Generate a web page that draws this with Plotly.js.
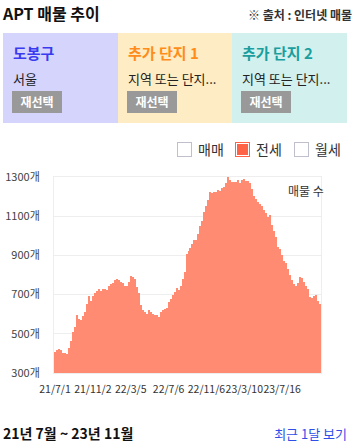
<!DOCTYPE html>
<html>
<head>
<meta charset="utf-8">
<script src="https://cdn.plot.ly/plotly-3.0.1.min.js"></script>
<style>
  html, body { margin:0; padding:0; width:355px; height:448px; overflow:hidden; background:#fff;
    font-family:"Noto Sans CJK KR","Noto Sans",sans-serif; color:#222; }
  .abs { position:absolute; white-space:nowrap; }
  #title { left:3px; top:1px; font-size:16px; font-weight:bold; color:#111; }
  #src { right:3px; top:6px; font-size:12px; font-weight:bold; color:#333; }
  .panel { position:absolute; top:33px; height:90px; }
  .ptitle { position:absolute; left:10px; top:9px; font-size:15px; font-weight:bold; }
  .psub { position:absolute; left:10px; top:36px; font-size:13px; color:#222; }
  .btn { position:absolute; left:9px; top:58px; width:50px; height:22px; background:#999; color:#fff;
    font-size:12px; font-weight:bold; text-align:center; line-height:22px; }
  .cb { position:absolute; top:142px; width:13px; height:13px; border:1px solid #c0c0cc; background:#fff; }
  .cb.on { border-color:#ff6347; }
  .cb.on div { position:absolute; left:1px; top:1px; width:11px; height:11px; background:#ff6347; }
  .cbl { position:absolute; top:139px; font-size:14px; color:#333; }
  #chart { position:absolute; left:0; top:160px; width:355px; height:250px; }
  #range { left:3px; top:423px; font-size:14px; font-weight:bold; color:#111; }
  #recent { right:8px; top:424px; font-size:13px; color:#2f4fe8; }
</style>
</head>
<body>
<div id="title" class="abs">APT 매물 추이</div>
<div id="src" class="abs">※ 출처 : 인터넷 매물</div>

<div class="panel" style="left:3px;width:115px;background:#d4d4fc;">
  <div class="ptitle" style="color:#3a3af0;">도봉구</div>
  <div class="psub">서울</div>
  <div class="btn">재선택</div>
</div>
<div class="panel" style="left:118px;width:114px;background:#feedc4;">
  <div class="ptitle" style="color:#ff8c1a;">추가 단지 1</div>
  <div class="psub">지역 또는 단지...</div>
  <div class="btn">재선택</div>
</div>
<div class="panel" style="left:232px;width:115px;background:#d2f0ee;">
  <div class="ptitle" style="color:#1a9e9e;">추가 단지 2</div>
  <div class="psub">지역 또는 단지...</div>
  <div class="btn">재선택</div>
</div>

<div class="cb" style="left:177px;"></div><div class="cbl" style="left:198px;">매매</div>
<div class="cb on" style="left:235px;"><div></div></div><div class="cbl" style="left:256px;">전세</div>
<div class="cb" style="left:294px;"></div><div class="cbl" style="left:315px;">월세</div>

<div id="chart"></div>

<div id="range" class="abs">21년 7월 ~ 23년 11월</div>
<div id="recent" class="abs">최근 1달 보기</div>

<script>
const listingCounts = [
  406, 415, 420, 415, 403, 400, 398, 430, 461, 510, 535, 594, 575, 570, 590, 610, 650, 691, 669, 691,
  708, 717, 727, 717, 730, 727, 724, 745, 752, 760, 775, 781, 775, 762, 757, 742, 743, 765, 794, 789,
  780, 738, 710, 645, 620,
  610, 602, 620, 611, 602, 598, 594, 588, 610, 624, 628, 633, 660, 680, 700, 715, 736, 725, 745, 780,
  815, 905, 922, 940, 958, 978, 980, 1010, 1050, 1075, 1120, 1150, 1185, 1223, 1218, 1221, 1226, 1235,
  1231, 1243, 1247, 1270, 1305,
  1286, 1272, 1272, 1276, 1283, 1269, 1284, 1288, 1282, 1280, 1268, 1240, 1205, 1190, 1173, 1163, 1150,
  1132, 1115, 1095, 1105, 1055, 1025, 995, 945, 931, 900, 872, 863, 830, 800, 775, 755, 744, 760, 792,
  785, 762, 745, 728, 690, 685, 695, 698, 665, 650
];
const tickIndex = [0, 19, 38, 57, 76, 95, 114];
const tickLabels = ['21/7/1', '21/11/2', '22/3/5', '22/7/6', '22/11/6', '23/3/10', '23/7/16'];
const yTicks = [300, 500, 700, 900, 1100, 1300];

const xIdx = listingCounts.map((_, i) => i);
const font = 'Noto Sans CJK KR, Noto Sans, sans-serif';

Plotly.newPlot('chart', [{
  type: 'bar',
  x: xIdx,
  y: listingCounts,
  marker: { color: '#ff8c72', line: { width: 0 } },
  hoverinfo: 'none'
}], {
  width: 355, height: 250,
  margin: { l: 54, r: 34, t: 17, b: 37 },
  paper_bgcolor: 'rgba(0,0,0,0)',
  plot_bgcolor: '#fff',
  bargap: 0,
  showlegend: false,
  font: { family: font, size: 11, color: '#333' },
  xaxis: {
    range: [-0.5, listingCounts.length - 0.5],
    tickmode: 'array', tickvals: tickIndex, ticktext: tickLabels,
    tickangle: 0, automargin: false,
    showgrid: false, zeroline: false,
    showline: true, mirror: true, linecolor: '#eee', linewidth: 1,
    ticks: 'outside', ticklen: 6, tickcolor: 'rgba(0,0,0,0)',
    tickfont: { family: font, size: 10.5, color: '#333' }
  },
  yaxis: {
    range: [300, 1300],
    tickmode: 'array', tickvals: yTicks, ticktext: yTicks.map(v => v + '개'),
    showgrid: true, gridcolor: '#eee', zeroline: false,
    showline: true, mirror: true, linecolor: '#eee', linewidth: 1,
    ticks: 'outside', ticklen: 11, tickcolor: 'rgba(0,0,0,0)',
    tickfont: { family: font, size: 11, color: '#444' }
  },
  annotations: [{
    xref: 'paper', yref: 'paper', x: 1, y: 1, xanchor: 'right', yanchor: 'top',
    xshift: 5, yshift: -3, showarrow: false,
    text: '매물 수', font: { family: font, size: 12, color: '#333' }
  }]
}, { staticPlot: true, displayModeBar: false });
</script>
</body>
</html>
